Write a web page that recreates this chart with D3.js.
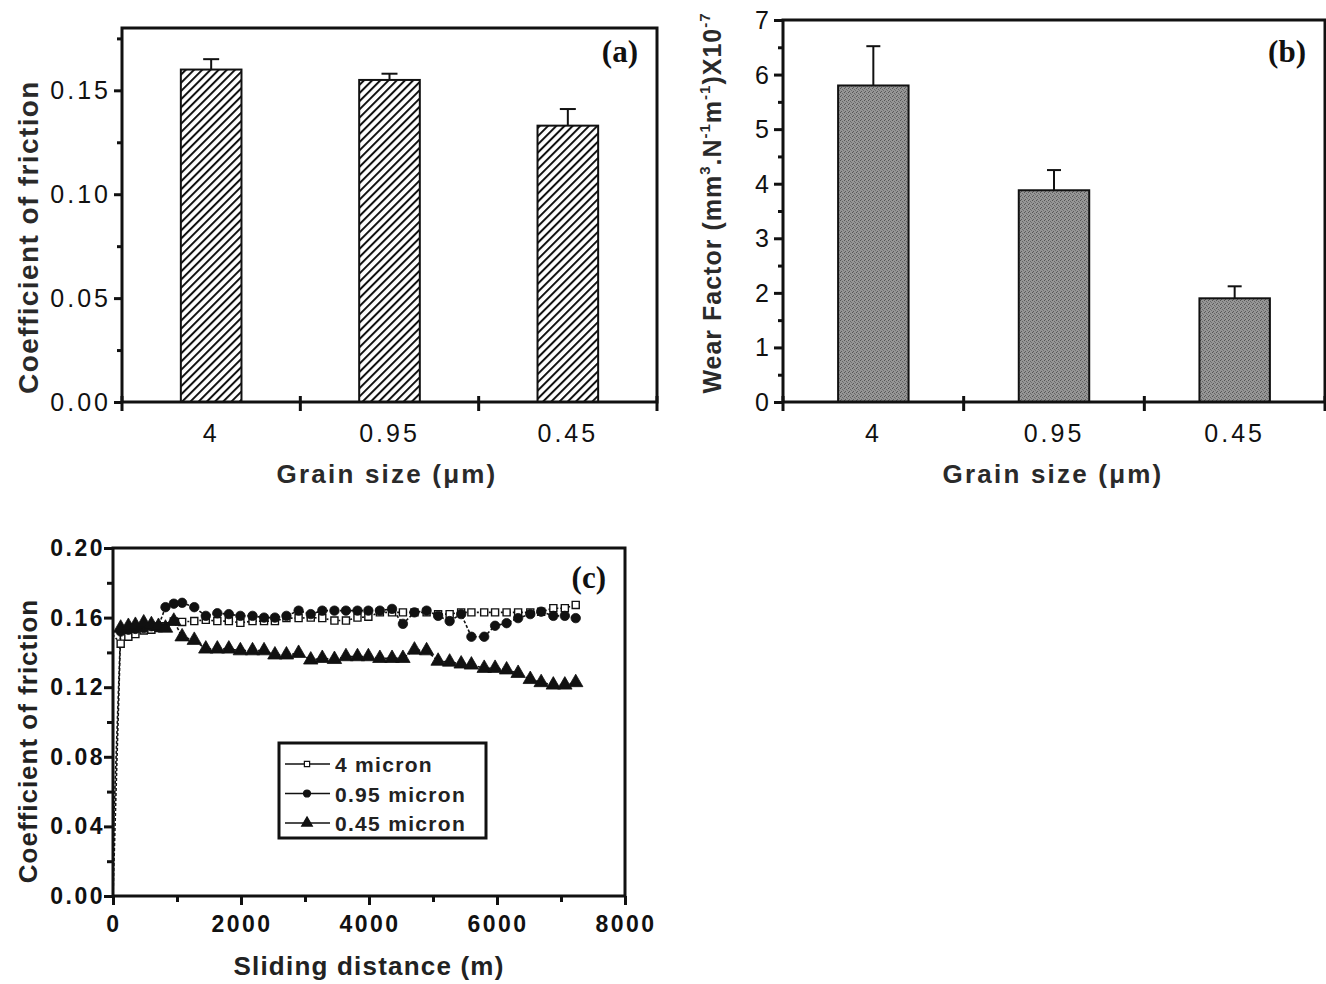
<!DOCTYPE html>
<html>
<head>
<meta charset="utf-8">
<script src="https://cdn.jsdelivr.net/npm/d3@7"></script>
<style>
  body { margin: 0; background: #fff; }
  svg { display: block; }
  .tick-a { font-family: "Liberation Sans Narrow", "Liberation Sans", Arial, sans-serif; font-size: 25px; letter-spacing: 3px; fill: #111; }
  .tick-c { font-family: "Liberation Sans Narrow", "Liberation Sans", Arial, sans-serif; font-size: 23px; letter-spacing: 2.5px; font-weight: bold; fill: #111; }
  .title { font-family: "Liberation Sans", Arial, sans-serif; fill: #222; }
  .letter { font-family: "Liberation Serif", "Times New Roman", serif; font-weight: bold; font-size: 31px; fill: #111; }
</style>
</head>
<body>
<div id="chart"></div>
<script>
// ---- data ----
var grainSizes = ["4", "0.95", "0.45"];
var frictionMean = [0.160, 0.155, 0.133];
var frictionErr = [0.005, 0.003, 0.008];
var wearMean = [5.80, 3.88, 1.90];
var wearErr = [0.72, 0.37, 0.22];

var distance = [0, 120, 240, 350, 480, 600, 710, 820, 950, 1080, 1270, 1450, 1630, 1810, 1990,
  2180, 2360, 2530, 2710, 2900, 3090, 3270, 3460, 3640, 3820, 3990, 4170, 4360, 4530, 4710,
  4900, 5080, 5260, 5440, 5600, 5800, 5970, 6150, 6330, 6520, 6690, 6880, 7060, 7230];
var cof4 = [0.150, 0.145, 0.149, 0.1505, 0.1526, 0.153, 0.154, 0.155, 0.1578, 0.1575, 0.158,
  0.1587, 0.158, 0.158, 0.157, 0.158, 0.158, 0.158, 0.1597, 0.1597, 0.160, 0.1597, 0.1583,
  0.1583, 0.160, 0.1605, 0.163, 0.163, 0.163, 0.163, 0.163, 0.162, 0.162, 0.163, 0.163,
  0.163, 0.163, 0.163, 0.163, 0.163, 0.1634, 0.1654, 0.1654, 0.1673];
var cof095 = [0.000, 0.152, 0.153, 0.1535, 0.154, 0.155, 0.155, 0.166, 0.168, 0.1685, 0.166,
  0.161, 0.1625, 0.162, 0.161, 0.161, 0.160, 0.160, 0.161, 0.164, 0.162, 0.164, 0.164,
  0.164, 0.164, 0.164, 0.164, 0.165, 0.1564, 0.163, 0.164, 0.161, 0.158, 0.162, 0.149,
  0.149, 0.1553, 0.1568, 0.1597, 0.162, 0.1634, 0.161, 0.161, 0.1597];
var cof045 = [0.030, 0.154, 0.155, 0.1556, 0.157, 0.156, 0.155, 0.154, 0.158, 0.149, 0.147,
  0.142, 0.142, 0.142, 0.141, 0.141, 0.141, 0.1386, 0.1386, 0.1395, 0.1357, 0.1366, 0.136,
  0.1376, 0.1376, 0.1376, 0.1366, 0.1366, 0.1366, 0.1414, 0.141, 0.135, 0.1345, 0.1334,
  0.1328, 0.1309, 0.1309, 0.130, 0.128, 0.1245, 0.1227, 0.1213, 0.1213, 0.1227];
var seriesNames = ["4 micron", "0.95 micron", "0.45 micron"];

var svg = d3.select("#chart").append("svg")
    .attr("width", 1326)
    .attr("height", 984);

var defs = svg.append("defs");
var hatch = defs.append("pattern")
    .attr("id", "hatch")
    .attr("patternUnits", "userSpaceOnUse")
    .attr("width", 5.8).attr("height", 5.8)
    .attr("patternTransform", "rotate(45)");
hatch.append("rect").attr("width", 5.8).attr("height", 5.8).attr("fill", "#fff");
hatch.append("line").attr("x1", 1).attr("x2", 1).attr("y1", 0).attr("y2", 5.8)
    .attr("stroke", "#111").attr("stroke-width", 2);

// gray speckled fill for panel (b)
var speck = defs.append("pattern")
    .attr("id", "speck")
    .attr("patternUnits", "userSpaceOnUse")
    .attr("width", 4).attr("height", 4);
speck.append("rect").attr("width", 4).attr("height", 4).attr("fill", "#969696");
speck.append("rect").attr("x", 0).attr("y", 0).attr("width", 1).attr("height", 1).attr("fill", "#555");
speck.append("rect").attr("x", 2).attr("y", 1).attr("width", 1).attr("height", 1).attr("fill", "#666");
speck.append("rect").attr("x", 1).attr("y", 3).attr("width", 1).attr("height", 1).attr("fill", "#5c5c5c");
speck.append("rect").attr("x", 3).attr("y", 2).attr("width", 1).attr("height", 1).attr("fill", "#707070");

// draws the bottom category axis: ticks crossing the axis at the band boundaries
function categoryAxis(g, x, y0, labelY) {
  var edges = grainSizes.map(function(d) { return x(d); });
  edges.push(x.range()[1]);
  g.selectAll(".ctick").data(edges).enter().append("line")
      .attr("x1", function(d) { return d; }).attr("x2", function(d) { return d; })
      .attr("y1", y0 - 6).attr("y2", y0 + 9)
      .attr("stroke", "#111").attr("stroke-width", 3);
  g.selectAll(".clabel").data(grainSizes).enter().append("text")
      .attr("class", "tick-a")
      .attr("x", function(d) { return x(d) + x.bandwidth() / 2; })
      .attr("y", labelY)
      .attr("text-anchor", "middle")
      .text(function(d) { return d; });
}

function frame(g, x0, x1, y0, y1) {
  g.append("rect")
      .attr("x", x0).attr("y", y1)
      .attr("width", x1 - x0).attr("height", y0 - y1)
      .attr("fill", "none").attr("stroke", "#111").attr("stroke-width", 3);
}

// ---------------- panel (a) ----------------
(function() {
  var g = svg.append("g");
  var x = d3.scaleBand().domain(grainSizes).range([122, 657]).padding(0);
  var y = d3.scaleLinear().domain([0, 0.18]).range([402, 28]);
  var bw = x.step() * 0.34;

  g.selectAll(".bar").data(frictionMean).enter().append("rect")
      .attr("x", function(d, i) { return x(grainSizes[i]) + x.bandwidth() / 2 - bw / 2; })
      .attr("y", function(d) { return y(d); })
      .attr("width", bw)
      .attr("height", function(d) { return y(0) - y(d); })
      .attr("fill", "url(#hatch)")
      .attr("stroke", "#111").attr("stroke-width", 2);

  var err = g.selectAll(".err").data(frictionMean).enter().append("g");
  err.append("line")
      .attr("x1", function(d, i) { return x(grainSizes[i]) + x.bandwidth() / 2; })
      .attr("x2", function(d, i) { return x(grainSizes[i]) + x.bandwidth() / 2; })
      .attr("y1", function(d) { return y(d); })
      .attr("y2", function(d, i) { return y(d + frictionErr[i]); })
      .attr("stroke", "#111").attr("stroke-width", 2);
  err.append("line")
      .attr("x1", function(d, i) { return x(grainSizes[i]) + x.bandwidth() / 2 - 8; })
      .attr("x2", function(d, i) { return x(grainSizes[i]) + x.bandwidth() / 2 + 8; })
      .attr("y1", function(d, i) { return y(d + frictionErr[i]); })
      .attr("y2", function(d, i) { return y(d + frictionErr[i]); })
      .attr("stroke", "#111").attr("stroke-width", 2);

  frame(g, 122, 657, 402, 28);

  var yAxis = d3.axisLeft(y).tickValues(d3.range(0, 0.176, 0.025)).tickSize(8).tickFormat("");
  var ya = g.append("g").attr("transform", "translate(122,0)").call(yAxis);
  ya.select(".domain").remove();
  ya.selectAll("line").attr("stroke", "#111").attr("stroke-width", 3);
  ya.selectAll(".tick").filter(function(d, i) { return i % 2 === 1; }).select("line").attr("x2", -5);

  g.selectAll(".ylab").data([0, 0.05, 0.10, 0.15]).enter().append("text")
      .attr("class", "tick-a")
      .attr("x", 111).attr("y", function(d) { return y(d) + 9; })
      .attr("text-anchor", "end")
      .text(function(d) { return d3.format(".2f")(d); });

  categoryAxis(g, x, 402, 442);

  g.append("text").attr("class", "title")
      .attr("transform", "translate(38,237) rotate(-90)")
      .attr("text-anchor", "middle")
      .style("font-size", "28px").style("letter-spacing", "1.4px").style("font-weight", "bold")
      .style("fill", "#2a2a2a")
      .text("Coefficient of friction");
  g.append("text").attr("class", "title")
      .attr("x", 387).attr("y", 483).attr("text-anchor", "middle")
      .style("font-size", "26px").style("letter-spacing", "2.2px").style("font-weight", "bold")
      .style("fill", "#2a2a2a")
      .text("Grain size (\u03bcm)");
  g.append("text").attr("class", "letter").attr("x", 638).attr("y", 62)
      .attr("text-anchor", "end").text("(a)");
})();

// ---------------- panel (b) ----------------
(function() {
  var g = svg.append("g");
  var x = d3.scaleBand().domain(grainSizes).range([783, 1325]).padding(0);
  var y = d3.scaleLinear().domain([0, 7]).range([402, 20]);
  var bw = x.step() * 0.39;

  g.selectAll(".bar").data(wearMean).enter().append("rect")
      .attr("x", function(d, i) { return x(grainSizes[i]) + x.bandwidth() / 2 - bw / 2; })
      .attr("y", function(d) { return y(d); })
      .attr("width", bw)
      .attr("height", function(d) { return y(0) - y(d); })
      .attr("fill", "url(#speck)")
      .attr("stroke", "#111").attr("stroke-width", 2);

  var err = g.selectAll(".err").data(wearMean).enter().append("g");
  err.append("line")
      .attr("x1", function(d, i) { return x(grainSizes[i]) + x.bandwidth() / 2; })
      .attr("x2", function(d, i) { return x(grainSizes[i]) + x.bandwidth() / 2; })
      .attr("y1", function(d) { return y(d); })
      .attr("y2", function(d, i) { return y(d + wearErr[i]); })
      .attr("stroke", "#111").attr("stroke-width", 2);
  err.append("line")
      .attr("x1", function(d, i) { return x(grainSizes[i]) + x.bandwidth() / 2 - 7; })
      .attr("x2", function(d, i) { return x(grainSizes[i]) + x.bandwidth() / 2 + 7; })
      .attr("y1", function(d, i) { return y(d + wearErr[i]); })
      .attr("y2", function(d, i) { return y(d + wearErr[i]); })
      .attr("stroke", "#111").attr("stroke-width", 2);

  frame(g, 783, 1325, 402, 20);

  var yAxis = d3.axisLeft(y).tickValues(d3.range(0, 7.01, 0.5)).tickSize(9).tickFormat("");
  var ya = g.append("g").attr("transform", "translate(783,0)").call(yAxis);
  ya.select(".domain").remove();
  ya.selectAll("line").attr("stroke", "#111").attr("stroke-width", 3);
  ya.selectAll(".tick").filter(function(d, i) { return i % 2 === 1; }).select("line").attr("x2", -5);

  g.selectAll(".ylab").data(d3.range(0, 8)).enter().append("text")
      .attr("class", "tick-a")
      .attr("x", 772).attr("y", function(d) { return y(d) + 9; })
      .attr("text-anchor", "end")
      .text(function(d) { return d; });

  categoryAxis(g, x, 402, 442);

  var t = g.append("text").attr("class", "title")
      .attr("transform", "translate(721,203) rotate(-90)")
      .attr("text-anchor", "middle")
      .style("font-size", "25px").style("font-weight", "bold").style("letter-spacing", "1px")
      .style("fill", "#2a2a2a");
  t.append("tspan").text("Wear Factor (mm");
  t.append("tspan").attr("dy", -11).style("font-size", "15px").text("3");
  t.append("tspan").attr("dy", 11).text(".N");
  t.append("tspan").attr("dy", -11).style("font-size", "15px").text("-1");
  t.append("tspan").attr("dy", 11).text("m");
  t.append("tspan").attr("dy", -11).style("font-size", "15px").text("-1");
  t.append("tspan").attr("dy", 11).text(")X10");
  t.append("tspan").attr("dy", -11).style("font-size", "15px").text("-7");

  g.append("text").attr("class", "title")
      .attr("x", 1053).attr("y", 483).attr("text-anchor", "middle")
      .style("font-size", "26px").style("letter-spacing", "2.2px").style("font-weight", "bold")
      .style("fill", "#2a2a2a")
      .text("Grain size (\u03bcm)");
  g.append("text").attr("class", "letter").attr("x", 1306).attr("y", 62)
      .attr("text-anchor", "end").text("(b)");
})();

// ---------------- panel (c) ----------------
(function() {
  var g = svg.append("g");
  var x = d3.scaleLinear().domain([0, 8000]).range([113, 625]);
  var y = d3.scaleLinear().domain([0, 0.20]).range([896, 548]);

  frame(g, 113, 625, 896, 548);

  var xAxis = d3.axisBottom(x).tickValues(d3.range(0, 8001, 1000)).tickSize(9).tickFormat("");
  var xa = g.append("g").attr("transform", "translate(0,896)").call(xAxis);
  xa.select(".domain").remove();
  xa.selectAll("line").attr("stroke", "#111").attr("stroke-width", 3);
  xa.selectAll(".tick").filter(function(d, i) { return i % 2 === 1; }).select("line").attr("y2", 6);
  g.selectAll(".xlab").data(d3.range(0, 8001, 2000)).enter().append("text")
      .attr("class", "tick-c")
      .attr("x", function(d) { return x(d) + 1; }).attr("y", 932)
      .attr("text-anchor", "middle")
      .text(function(d) { return d; });

  var yAxis = d3.axisLeft(y).tickValues(d3.range(0, 0.201, 0.02)).tickSize(9).tickFormat("");
  var ya = g.append("g").attr("transform", "translate(113,0)").call(yAxis);
  ya.select(".domain").remove();
  ya.selectAll("line").attr("stroke", "#111").attr("stroke-width", 3);
  ya.selectAll(".tick").filter(function(d, i) { return i % 2 === 1; }).select("line").attr("x2", -6);
  g.selectAll(".ylab").data(d3.range(0, 0.201, 0.04)).enter().append("text")
      .attr("class", "tick-c")
      .attr("x", 105).attr("y", function(d) { return y(d) + 8; })
      .attr("text-anchor", "end")
      .text(function(d) { return d3.format(".2f")(d); });

  var allSeries = [cof4, cof095, cof045];
  var line = d3.line()
      .x(function(d, i) { return x(distance[i]); })
      .y(function(d) { return y(d); });

  allSeries.forEach(function(vals, k) {
    g.append("path").datum(vals)
        .attr("d", line)
        .attr("fill", "none").attr("stroke", "#111").attr("stroke-width", 1.6)
        .attr("stroke-dasharray", k === 0 ? "2,2" : "3,2");
  });

  var sym = [d3.symbolSquare, d3.symbolCircle, d3.symbolTriangle];
  var symSize = [50, 70, 90];
  allSeries.forEach(function(vals, k) {
    g.selectAll(".m" + k).data(vals.slice(1)).enter().append("path")
        .attr("transform", function(d, i) { return "translate(" + x(distance[i + 1]) + "," + y(d) + ")"; })
        .attr("d", d3.symbol().type(sym[k]).size(symSize[k]))
        .attr("fill", k === 0 ? "#fff" : "#111")
        .attr("stroke", "#111").attr("stroke-width", k === 0 ? 1.4 : 0.8);
  });

  // legend
  var lg = g.append("g");
  lg.append("rect").attr("x", 279).attr("y", 743).attr("width", 207).attr("height", 95)
      .attr("fill", "#fff").attr("stroke", "#111").attr("stroke-width", 3);
  seriesNames.forEach(function(name, k) {
    var ly = 764 + k * 29.5;
    lg.append("line").attr("x1", 285).attr("x2", 330).attr("y1", ly).attr("y2", ly)
        .attr("stroke", "#111").attr("stroke-width", 1.6);
    lg.append("path")
        .attr("transform", "translate(307," + ly + ")")
        .attr("d", d3.symbol().type(sym[k]).size(symSize[k] * 0.55))
        .attr("fill", k === 0 ? "#fff" : "#111")
        .attr("stroke", "#111").attr("stroke-width", 1.2);
    lg.append("text").attr("class", "title")
        .attr("x", 335).attr("y", ly + 8)
        .style("font-size", "21px").style("font-weight", "bold").style("letter-spacing", "1.3px")
        .text(name);
  });

  g.append("text").attr("class", "title")
      .attr("transform", "translate(37,741) rotate(-90)")
      .attr("text-anchor", "middle")
      .style("font-size", "26px").style("font-weight", "bold").style("letter-spacing", "1px")
      .text("Coefficient of friction");
  g.append("text").attr("class", "title")
      .attr("x", 369).attr("y", 975).attr("text-anchor", "middle")
      .style("font-size", "26px").style("font-weight", "bold").style("letter-spacing", "1.2px")
      .text("Sliding distance (m)");
  g.append("text").attr("class", "letter").attr("x", 606).attr("y", 588)
      .attr("text-anchor", "end").text("(c)");
})();
</script>
</body>
</html>
